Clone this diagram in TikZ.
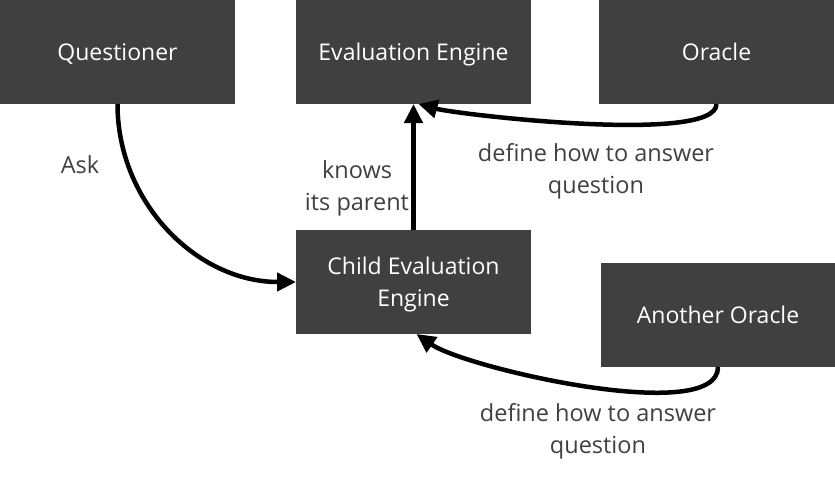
\documentclass[tikz,border=0pt]{standalone}
\usepackage{fontspec}
\setmainfont{Open Sans}
\usetikzlibrary{arrows.meta,positioning}
\definecolor{boxgray}{HTML}{404040}
\definecolor{labelgray}{HTML}{404040}

\begin{document}
\begin{tikzpicture}[x=1pt, y=1pt, -{Triangle[length=19pt,width=18pt]}, line width=4.5pt, node distance=61pt]
    \tikzstyle{block}=[rectangle, fill=boxgray, text=white, minimum width=235pt, minimum height=104pt, inner sep=0pt, outer sep=0pt, text depth=0pt, align=center, font=\fontsize{23}{32}\selectfont]
    \tikzstyle{remark}=[text=labelgray, align=center, font=\fontsize{23.5}{32}\selectfont]

    \useasboundingbox (0,0) rectangle (835,-479);

    \node[block] (questioner) at (117.5,-52) {Questioner};
    \node[block] (engine) [right=61pt of questioner] {Evaluation Engine};
    \node[block] (oracle) [right=68pt of engine] {Oracle};
    \node[block] (child) [below=126pt of engine] {Child Evaluation\\Engine};
    \node[block] (another) at (718,-315) {Another Oracle};

    \coordinate (engineport) at ([xshift=5pt]engine.south);
    \coordinate (childport) at ([xshift=3pt]child.south);

    \node[remark] (asklabel) at (80,-165) {Ask};
    \node[remark] (parentlabel) at (357,-188) {knows\\its parent};
    \node[remark] (answerlabel) at (596,-171) {define how to answer\\question};
    \node[remark] (answerlabel2) at (598,-431) {define how to answer\\question};

    \path
    (questioner) edge [out=-90, in=180] (child)
    (child)      edge [] (engine)
    (oracle)     edge [out=-90, in=-15, looseness=0.35] (engineport)
    (another)    edge [out=-90, in=-35, looseness=0.5] (childport);

\end{tikzpicture}
\end{document}
